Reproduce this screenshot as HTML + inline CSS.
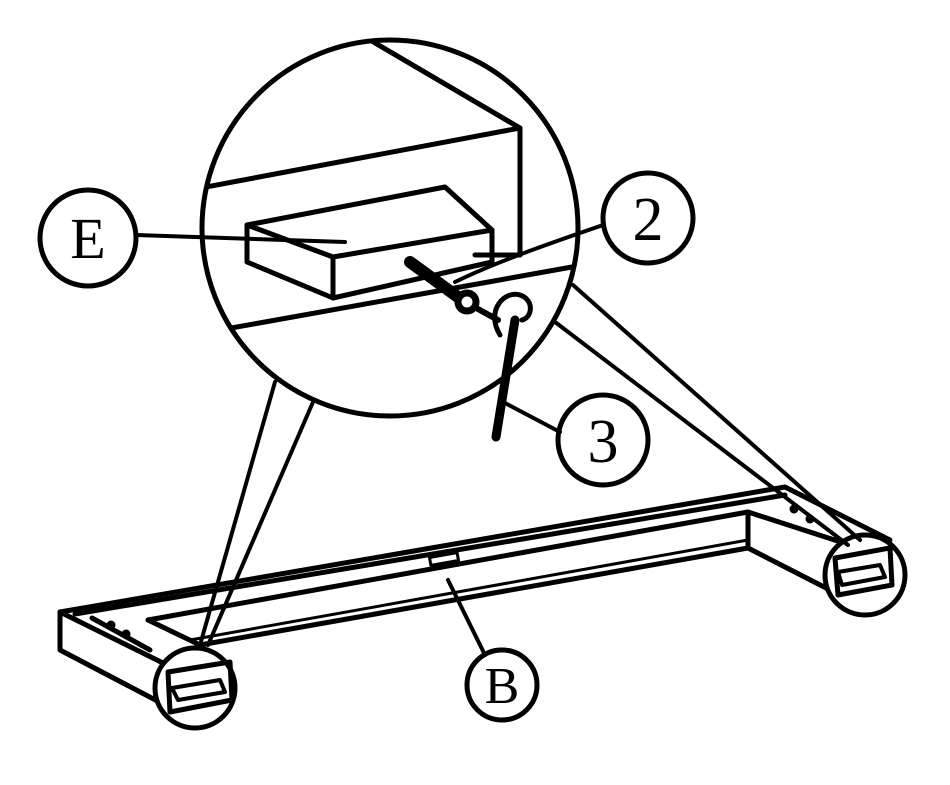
<!DOCTYPE html>
<html><head><style>html,body{margin:0;padding:0;background:#fff}svg{display:block}</style></head>
<body>
<svg width="950" height="785" viewBox="0 0 950 785" xmlns="http://www.w3.org/2000/svg" fill="none" stroke="#000" stroke-width="5" stroke-linejoin="round" stroke-linecap="round">
<defs><clipPath id="c"><circle cx="390" cy="228" r="188"/></clipPath></defs>
<path d="M60 612 L785 487 L890 540"/>
<path d="M60 612 L60 650 L165 705"/>
<path d="M60 612 L165 664 L165 705"/>
<path d="M75 614 L785 495"/>
<path d="M92 618 L150 650"/>
<path d="M148 620 L200 645 L748 548 L748 512 L850 545"/>
<path d="M148 620 L748 512"/>
<path d="M190 640 L748 540" stroke-width="3"/>
<path d="M165 705 L230 692"/>
<path d="M748 548 L830 590"/>
<rect x="430" y="555" width="28" height="8" stroke-width="3" transform="rotate(-10 444 559)"/>
<circle cx="111" cy="625" r="4.5" fill="#000" stroke="none"/><circle cx="126" cy="634" r="4.5" fill="#000" stroke="none"/>
<circle cx="794" cy="509" r="4.5" fill="#000" stroke="none"/><circle cx="810" cy="519" r="4.5" fill="#000" stroke="none"/>
<circle cx="195" cy="688" r="40" fill="#fff"/>
<path d="M168 672 L230 662 L232 700 L170 712 Z"/>
<path d="M172 688 L220 680 L225 692 L178 700 Z" stroke-width="4"/>
<circle cx="865" cy="575" r="40" fill="#fff"/>
<path d="M835 558 L890 548 L892 585 L838 595 Z"/>
<path d="M838 572 L880 565 L885 577 L842 585 Z" stroke-width="4"/>
<path d="M275 382 L200 645 M313 402 L208 645" stroke-width="4"/>
<path d="M573 285 L860 540 M555 322 L848 545" stroke-width="4"/>
<circle cx="390" cy="228" r="188" fill="#fff"/>
<g clip-path="url(#c)">
<path d="M370 40 L520 128 L520 255"/>
<path d="M190 190 L520 128"/>
<path d="M220 330 L600 262"/>
<path d="M475 255 L520 255"/>
</g>
<path d="M247 225 L445 187 L492 230 L333 257 Z" fill="#fff"/>
<path d="M247 225 L247 262 L333 298 L333 257"/>
<path d="M333 298 L492 262 L492 230"/>
<path d="M410 262 L462 300" stroke-width="12"/>
<circle cx="467" cy="302" r="9" stroke-width="7" fill="#fff"/>
<path d="M478 309 L498 320" stroke-width="6"/>
<path d="M500 335 C485 310 505 290 520 295 C535 300 532 318 522 320" stroke-width="5"/>
<path d="M515 320 L496 437" stroke-width="9"/>
<circle cx="88" cy="238" r="48" fill="#fff"/>
<text x="88" y="258" font-family="Liberation Serif, serif" font-size="58" text-anchor="middle" fill="#000" stroke="none">E</text>
<path d="M136 235 L345 242" stroke-width="4"/>
<circle cx="648" cy="218" r="45" fill="#fff"/>
<text x="648" y="240" font-family="Liberation Serif, serif" font-size="62" text-anchor="middle" fill="#000" stroke="none">2</text>
<path d="M603 225 C560 240 500 260 455 282" stroke-width="4"/>
<circle cx="603" cy="440" r="45" fill="#fff"/>
<text x="603" y="462" font-family="Liberation Serif, serif" font-size="62" text-anchor="middle" fill="#000" stroke="none">3</text>
<path d="M560 432 L505 403" stroke-width="4"/>
<circle cx="502" cy="685" r="35" fill="#fff"/>
<text x="502" y="703" font-family="Liberation Serif, serif" font-size="52" text-anchor="middle" fill="#000" stroke="none">B</text>
<path d="M485 655 L448 580" stroke-width="4"/>
</svg>
</body></html>
